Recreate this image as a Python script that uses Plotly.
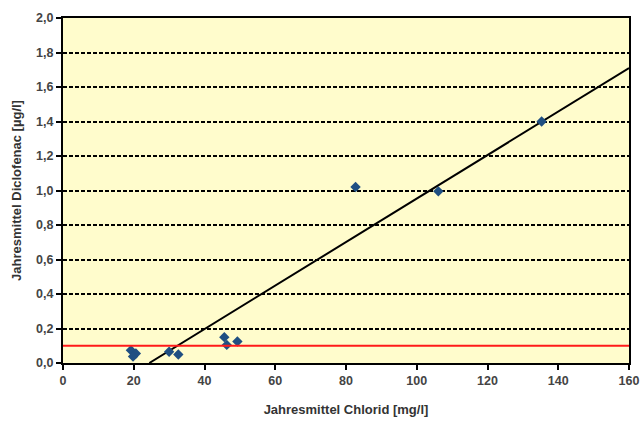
import numpy as np
import plotly.graph_objects as go

# Data
chlorid = [19.2, 20.6, 19.8, 30.0, 32.6, 45.6, 46.3, 49.3, 82.7, 106.1, 135.3]
diclofenac = [0.074, 0.055, 0.038, 0.065, 0.049, 0.15, 0.105, 0.125, 1.02, 0.995, 1.40]

trend_slope = 0.01261
trend_intercept = -0.3077
limit_value = 0.1

x_ticks = [0, 20, 40, 60, 80, 100, 120, 140, 160]
y_ticks = [0.0, 0.2, 0.4, 0.6, 0.8, 1.0, 1.2, 1.4, 1.6, 1.8, 2.0]

x_max = 160
x_start = -trend_intercept / trend_slope
trend_x = np.array([x_start, x_max])
trend_y = trend_slope * trend_x + trend_intercept

fig = go.Figure()

fig.add_hline(y=limit_value, line=dict(color="#ff1a1a", width=2), layer="above")

fig.add_trace(go.Scatter(
    x=trend_x, y=trend_y, mode="lines",
    line=dict(color="black", width=2), showlegend=False, hoverinfo="skip"))

fig.add_trace(go.Scatter(
    x=chlorid, y=diclofenac, mode="markers",
    marker=dict(symbol="diamond", size=8, color="#1f4f82"),
    showlegend=False))

tick_font = dict(family="Liberation Sans", size=12.5, color="#444444", weight="bold")
title_font = dict(family="Liberation Sans", size=13, color="#333333", weight="bold")

fig.update_layout(
    width=641, height=421,
    margin=dict(l=63, r=12, t=18, b=58, autoexpand=False),
    paper_bgcolor="white",
    plot_bgcolor="#fffccc",
    separators=", ",
    xaxis=dict(
        range=[0, x_max], tickvals=x_ticks, ticktext=[str(v) for v in x_ticks],
        showgrid=False, zeroline=False, automargin=False,
        ticklabeloverflow="allow",
        showline=True, linecolor="black", linewidth=2, mirror=True,
        ticks="outside", ticklen=5, tickcolor="black", tickwidth=1.5,
        tickfont=tick_font,
        title=dict(text="Jahresmittel Chlorid [mg/l]", font=title_font, standoff=18),
    ),
    yaxis=dict(
        range=[0, 2.0], tickvals=y_ticks, tickformat=".1f",
        showgrid=True, gridcolor="black", gridwidth=1.5, griddash="4px,2px",
        zeroline=False, automargin=False,
        showline=True, linecolor="black", linewidth=2, mirror=True,
        ticks="outside", ticklen=5, tickcolor="black", tickwidth=1.5,
        tickfont=tick_font,
        title=dict(text="Jahresmittel Diclofenac [µg/l]", font=title_font, standoff=12),
    ),
)

fig.write_html("out.html")
